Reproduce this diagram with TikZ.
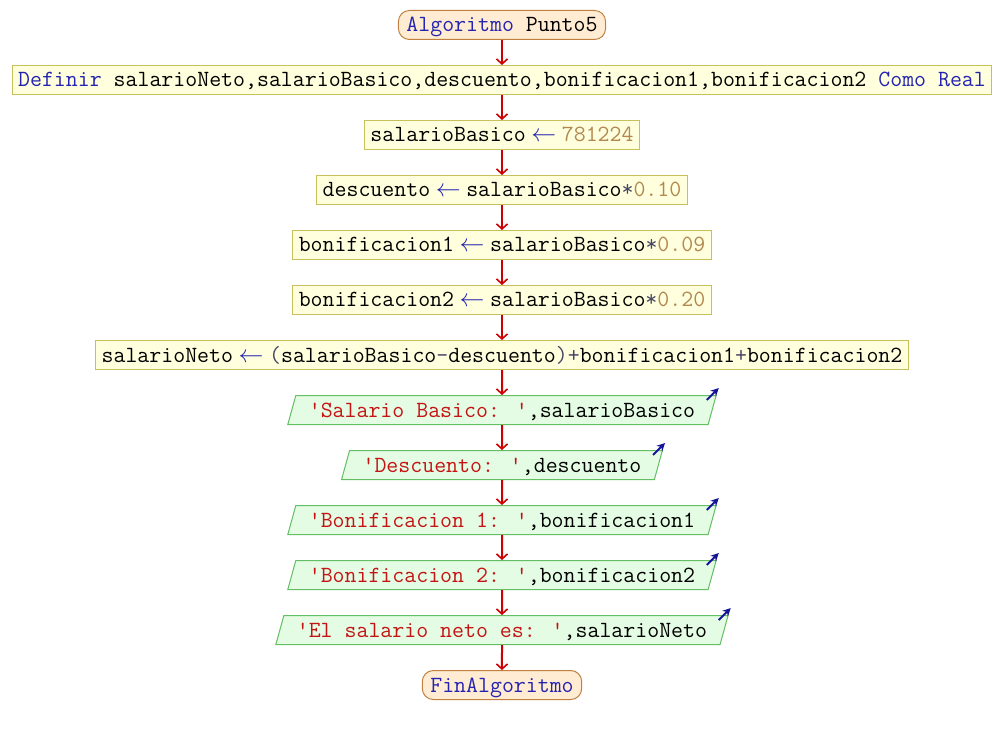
\documentclass[tikz,border=0pt]{standalone}
\usepackage{fontspec}
\usepackage{xcolor}
\usepackage{tikz}
\usetikzlibrary{positioning,shapes.geometric,arrows.meta}

\definecolor{kwblue}{RGB}{36,36,176}
\definecolor{numtan}{RGB}{176,136,80}
\definecolor{strred}{RGB}{196,20,20}
\definecolor{opgray}{RGB}{70,70,100}
\definecolor{termfill}{RGB}{255,236,210}
\definecolor{termline}{RGB}{192,128,64}
\definecolor{procfill}{RGB}{255,255,221}
\definecolor{procline}{RGB}{200,192,90}
\definecolor{iofill}{RGB}{228,252,228}
\definecolor{ioline}{RGB}{100,190,100}
\definecolor{flowred}{RGB}{204,0,0}
\definecolor{outblue}{RGB}{20,20,150}

\newcommand{\kw}[1]{\textcolor{kwblue}{#1}}
\newcommand{\nm}[1]{\textcolor{numtan}{#1}}
\newcommand{\cad}[1]{\textcolor{strred}{#1}}
\newcommand{\opr}[1]{\textcolor{opgray}{#1}}
\newcommand{\q}{\textquotesingle}
\newcommand{\asig}{\makebox[0.525em]{\textcolor{kwblue}{$\leftarrow$}}}

\begin{document}
\begin{tikzpicture}[x=1pt,y=1pt,node distance=25pt,
		base/.style={
			% the text
			font=\ttfamily\fontsize{23.2}{26}\selectfont,
			text height=16pt,text depth=2pt,minimum height=29pt},
		terminal/.style={base,
			rectangle,rounded corners=11pt,inner xsep=8pt,
			draw=termline,line width=1pt,fill=termfill},
		proceso/.style={base,
			rectangle,inner xsep=6pt,
			draw=procline,line width=1pt,fill=procfill},
		salida/.style={base,
			trapezium,trapezium left angle=72,trapezium right angle=108,
			trapezium stretches=true,inner xsep=13pt,
			draw=ioline,line width=1pt,fill=iofill},
		flujo/.style={draw=flowred,line width=2pt,
			-{Straight Barb[length=5pt,width=11pt,line width=1.6pt]}},
		pantalla/.style={draw=outblue,line width=2pt,
			-{Stealth[length=8pt,width=8pt]}}]
	\useasboundingbox (0,0) rectangle (1004,-735);

	\node (c_ini)	[terminal] at (502,-25) {\kw{Algoritmo} Punto5};
	\node (c_def)	[proceso, below=of c_ini]
		{\kw{Definir} salarioNeto,salarioBasico,descuento,bonificacion1,bonificacion2 \kw{Como Real}};
	\node (c_sb)	[proceso, below=of c_def] {salarioBasico \asig{} \nm{781224}};
	\node (c_desc)	[proceso, below=of c_sb] {descuento \asig{} salarioBasico\opr{*}\nm{0.10}};
	\node (c_bon1)	[proceso, below=of c_desc] {bonificacion1 \asig{} salarioBasico\opr{*}\nm{0.09}};
	\node (c_bon2)	[proceso, below=of c_bon1] {bonificacion2 \asig{} salarioBasico\opr{*}\nm{0.20}};
	\node (c_neto)	[proceso, below=of c_bon2]
		{salarioNeto \asig{} \opr{(}salarioBasico\opr{-}descuento\opr{)+}bonificacion1\opr{+}bonificacion2};
	\node (c_esb)	[salida, below=of c_neto] {\cad{\q Salario Basico: \q},salarioBasico};
	\node (c_edesc)	[salida, below=of c_esb] {\cad{\q Descuento: \q},descuento};
	\node (c_ebon1)	[salida, below=of c_edesc] {\cad{\q Bonificacion 1: \q},bonificacion1};
	\node (c_ebon2)	[salida, below=of c_ebon1] {\cad{\q Bonificacion 2: \q},bonificacion2};
	\node (c_eneto)	[salida, below=of c_ebon2] {\cad{\q El salario neto es: \q},salarioNeto};
	\node (c_fin)	[terminal, below=of c_eneto] {\kw{FinAlgoritmo}};

	\path	(c_ini)		edge[flujo]	(c_def)
			(c_def)		edge[flujo]	(c_sb)
			(c_sb)		edge[flujo]	(c_desc)
			(c_desc)	edge[flujo]	(c_bon1)
			(c_bon1)	edge[flujo]	(c_bon2)
			(c_bon2)	edge[flujo]	(c_neto)
			(c_neto)	edge[flujo]	(c_esb)
			(c_esb)		edge[flujo]	(c_edesc)
			(c_edesc)	edge[flujo]	(c_ebon1)
			(c_ebon1)	edge[flujo]	(c_ebon2)
			(c_ebon2)	edge[flujo]	(c_eneto)
			(c_eneto)	edge[flujo]	(c_fin);

	% output marks
	\foreach \s in {c_esb,c_edesc,c_ebon1,c_ebon2,c_eneto}
		\draw[pantalla] ([shift={(-10,-5)}]\s.top right corner) -- ++(12,12);
\end{tikzpicture}
\end{document}
